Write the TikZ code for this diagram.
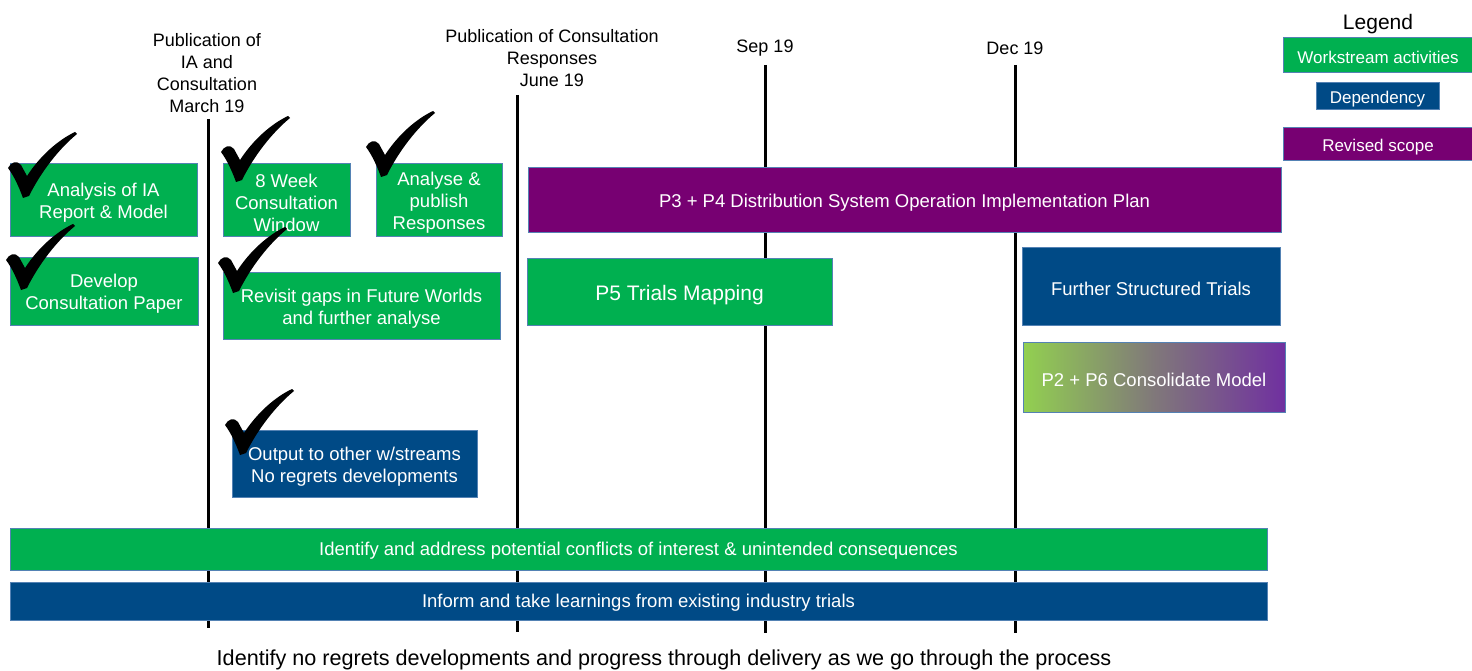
\documentclass[tikz,border=0pt]{standalone}
\usepackage{fontspec}
\setmainfont{Liberation Sans}
\definecolor{wgreen}{RGB}{0,176,80}
\definecolor{dblue}{RGB}{0,74,134}
\definecolor{rpurple}{RGB}{119,0,114}
\definecolor{bordc}{RGB}{84,130,180}
\definecolor{ggreen}{RGB}{146,208,80}
\definecolor{gpurple}{RGB}{112,48,160}
\definecolor{ggray}{RGB}{128,120,122}
\tikzset{
  box/.style={draw=bordc, line width=1pt, inner sep=0pt},
  wsbox/.style={box, fill=wgreen},
  depbox/.style={box, fill=dblue},
  revbox/.style={box, fill=rpurple},
  btxt/.style={text=white, inner sep=0pt, align=center, yshift=-3pt,
    font=\fontsize{18.5}{22}\selectfont},
  mile/.style={line width=3pt, black},
  lbl/.style={align=center, font=\fontsize{18}{22}\selectfont, inner sep=0pt},
  checkmk/.pic={
    \fill[black] (0,36) .. controls (3,30) and (9,28) .. (13,33) -- (19,44)
      .. controls (32,24) and (50,8) .. (67,0) -- (69,2)
      .. controls (52,16) and (34,38) .. (21,64) -- (15,66)
      .. controls (11,55) and (6,44) .. (0,36) -- cycle;
  }
}
\begin{document}
\begin{tikzpicture}[x=1pt,y=-1pt]
\useasboundingbox (0,0) rectangle (1472,671);
% milestone lines
\coordinate (m1t) at (208,119); \coordinate (m1b) at (208,628);
\coordinate (m2t) at (517,95);  \coordinate (m2b) at (517,632);
\coordinate (m3t) at (765,65);  \coordinate (m3b) at (765,633);
\coordinate (m4t) at (1015,65); \coordinate (m4b) at (1015,633);
\draw[mile] (m1t) -- (m1b);
\draw[mile] (m2t) -- (m2b);
\draw[mile] (m3t) -- (m3b);
\draw[mile] (m4t) -- (m4b);
% milestone labels
\node[lbl] (l1) at (207,73) {Publication of\\IA and\\Consultation\\March 19};
\node[lbl] (l2) at (552,58) {Publication of Consultation\\Responses\\June 19};
\node[lbl] (l3) at (765,48) {Sep 19};
\node[lbl] (l4) at (1015,48) {Dec 19};
% activity boxes
\node[wsbox, minimum width=187, minimum height=72,
  label={[btxt]center:{Analysis of IA\\Report \& Model}}] (ana) at (103.5,200) {};
\node[wsbox, minimum width=188, minimum height=68,
  label={[btxt]center:{Develop\\Consultation Paper}}] (dev) at (104,291) {};
\node[wsbox, minimum width=127, minimum height=72,
  label={[btxt]center:{8 Week\\Consultation\\Window}}] (week) at (286.5,200) {};
\node[wsbox, minimum width=126, minimum height=72,
  label={[btxt]center:{Analyse \&\\publish\\Responses}}] (anp) at (439,200) {};
\node[wsbox, minimum width=277, minimum height=67,
  label={[btxt]center:{Revisit gaps in Future Worlds\\and further analyse}}] (rev) at (361.5,305.5) {};
\node[depbox, minimum width=245, minimum height=67,
  label={[btxt]center:{Output to other w/streams\\No regrets developments}}] (out) at (354.5,463.5) {};
\node[revbox, minimum width=753, minimum height=64,
  label={[btxt]center:{P3 + P4 Distribution System Operation Implementation Plan}}] (p34) at (904.5,200) {};
\node[wsbox, minimum width=305, minimum height=67,
  label={[btxt, yshift=-1pt, font=\fontsize{21}{25}\selectfont]center:{P5 Trials Mapping}}] (p5) at (679.5,291.5) {};
\node[depbox, minimum width=258, minimum height=78,
  label={[btxt]center:{Further Structured Trials}}] (fst) at (1151,286) {};
\node[box, left color=ggreen, right color=gpurple, middle color=ggray, minimum width=262, minimum height=70,
  label={[btxt]center:{P2 + P6 Consolidate Model}}] (p26) at (1154,377) {};
\node[wsbox, minimum width=1257, minimum height=42,
  label={[btxt, yshift=1pt, font=\fontsize{18.5}{22}\selectfont]center:{Identify and address potential conflicts of interest \& unintended consequences}}] (conf) at (638.5,549) {};
\node[depbox, minimum width=1257, minimum height=38,
  label={[btxt, yshift=1pt, font=\fontsize{18.5}{22}\selectfont]center:{Inform and take learnings from existing industry trials}}] (inf) at (638.5,601) {};
% legend
\node[lbl, font=\fontsize{21}{25}\selectfont] (leg) at (1378,24) {Legend};
\node[wsbox, minimum width=190, minimum height=35,
  label={[btxt, yshift=1pt, font=\fontsize{17}{20}\selectfont]center:{Workstream activities}}] (lg1) at (1378,55.5) {};
\node[depbox, minimum width=123, minimum height=27,
  label={[btxt, font=\fontsize{17}{20}\selectfont]center:{Dependency}}] (lg2) at (1377.5,96.5) {};
\node[revbox, minimum width=190, minimum height=33,
  label={[btxt, font=\fontsize{17}{20}\selectfont]center:{Revised scope}}] (lg3) at (1378,144.5) {};
% bottom text
\node[lbl, font=\fontsize{21.6}{25}\selectfont] (foot) at (664,660) {Identify no regrets developments and progress through delivery as we go through the process};
% check marks
\pic at (8,132) {checkmk};
\pic at (6,224) {checkmk};
\pic at (221,116) {checkmk};
\pic at (366,111) {checkmk};
\pic at (218,227) {checkmk};
\pic at (225,389) {checkmk};
\end{tikzpicture}
\end{document}
